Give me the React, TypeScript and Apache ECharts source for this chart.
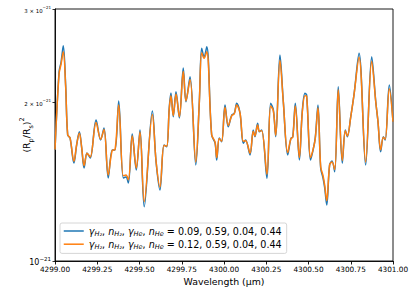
import React, { useEffect, useRef } from "react";
import * as echarts from "echarts";

// Wavelength samples (µm)
const WAVELENGTH = [
  4299.0, 4299.024, 4299.036, 4299.049, 4299.063, 4299.075, 4299.089, 4299.112, 4299.128, 4299.144,
  4299.158, 4299.172, 4299.189, 4299.197, 4299.209, 4299.243, 4299.27, 4299.29, 4299.315, 4299.339,
  4299.355, 4299.377, 4299.404, 4299.42, 4299.434, 4299.457, 4299.481, 4299.503, 4299.528, 4299.576,
  4299.598, 4299.621, 4299.645, 4299.661, 4299.676, 4299.686, 4299.7, 4299.716, 4299.736, 4299.759,
  4299.775, 4299.799, 4299.833, 4299.854, 4299.868, 4299.882, 4299.898, 4299.927, 4299.947, 4299.957,
  4299.972, 4299.986, 4300.006, 4300.025, 4300.046, 4300.061, 4300.075, 4300.095, 4300.114, 4300.128,
  4300.154, 4300.173, 4300.183, 4300.199, 4300.209, 4300.223, 4300.254, 4300.276, 4300.292, 4300.306,
  4300.331, 4300.351, 4300.377, 4300.396, 4300.407, 4300.422, 4300.446, 4300.463, 4300.479, 4300.489,
  4300.512, 4300.527, 4300.54, 4300.556, 4300.572, 4300.586, 4300.596, 4300.608, 4300.625, 4300.639,
  4300.655, 4300.676, 4300.7, 4300.718, 4300.73, 4300.75, 4300.769, 4300.799, 4300.838, 4300.874,
  4300.898, 4300.911, 4300.927, 4300.943, 4300.954, 4300.978, 4301.0,
];

// (Rp/Rs)^2 in units of 1e-21, gamma_H2 = 0.09
const DEPTH_A = [
  1.622, 2.280, 2.381, 2.557, 2.154, 1.732, 1.710, 1.533, 1.658, 1.757,
  1.637, 1.500, 1.601, 1.588, 1.567, 1.849, 1.695, 1.786, 1.436, 1.622,
  1.622, 2.009, 1.436, 1.442, 1.405, 1.740, 1.487, 1.770, 1.267, 1.923,
  1.542, 1.363, 1.658, 1.646, 1.949, 2.080, 1.876, 2.092, 1.865, 2.320,
  2.003, 2.233, 1.520, 2.003, 2.528, 2.437, 2.545, 1.732, 1.673, 1.553,
  1.710, 1.682, 1.974, 1.796, 1.890, 1.904, 1.989, 1.904, 1.671, 1.695,
  1.588, 1.770, 1.719, 1.823, 1.757, 1.770, 1.434, 1.989, 1.932, 1.719,
  2.455, 2.003, 1.588, 1.707, 1.719, 1.989, 1.553, 1.917, 2.077, 2.062,
  1.553, 1.622, 1.710, 1.974, 1.500, 1.436, 1.375, 1.277, 1.520, 1.546,
  1.476, 2.138, 1.531, 1.770, 1.719, 1.876, 2.062, 2.473, 1.520, 2.437,
  2.003, 1.836, 1.610, 1.719, 1.695, 2.154, 1.836,
];

// (Rp/Rs)^2 in units of 1e-21, gamma_H2 = 0.12
const DEPTH_B = [
  1.625, 2.260, 2.360, 2.490, 2.140, 1.735, 1.710, 1.545, 1.660, 1.745,
  1.640, 1.515, 1.600, 1.590, 1.575, 1.830, 1.700, 1.775, 1.455, 1.620,
  1.625, 1.975, 1.450, 1.455, 1.425, 1.725, 1.500, 1.755, 1.295, 1.895,
  1.545, 1.380, 1.655, 1.650, 1.940, 2.055, 1.885, 2.070, 1.875, 2.285,
  2.010, 2.205, 1.540, 2.000, 2.480, 2.420, 2.490, 1.735, 1.680, 1.570,
  1.705, 1.685, 1.955, 1.805, 1.885, 1.900, 1.975, 1.905, 1.685, 1.690,
  1.600, 1.760, 1.725, 1.810, 1.760, 1.765, 1.460, 1.965, 1.925, 1.730,
  2.400, 2.000, 1.605, 1.705, 1.715, 1.965, 1.570, 1.910, 2.055, 2.050,
  1.570, 1.625, 1.705, 1.950, 1.510, 1.450, 1.390, 1.300, 1.520, 1.540,
  1.490, 2.110, 1.550, 1.765, 1.725, 1.875, 2.060, 2.430, 1.540, 2.390,
  2.000, 1.840, 1.625, 1.715, 1.700, 2.120, 1.835,
];

const SERIES_NAMES = ["0.09, 0.59, 0.04, 0.44", "0.12, 0.59, 0.04, 0.44"];
const SERIES_COLORS = ["#1f77b4", "#ff7f0e"];
const Y_TICKS = [1, 2, 3];
const X_MIN = 4299;
const X_MAX = 4301;
const X_STEP = 0.25;

const FONT = "DejaVu Sans";

export default function App() {
  const ref = useRef<HTMLDivElement>(null);
  useEffect(() => {
    if (!ref.current) return;
    const chart = echarts.init(ref.current, undefined, { renderer: "svg" });
    const series = [DEPTH_A, DEPTH_B].map((arr, si) => ({
      name: SERIES_NAMES[si],
      type: "line",
      data: WAVELENGTH.map((w, i) => [w, arr[i]]),
      symbol: "none",
      showSymbol: false,
      smooth: 0.35,
      lineStyle: { color: SERIES_COLORS[si], width: 1.5 },
      itemStyle: { color: SERIES_COLORS[si] },
      z: 2 + si,
    }));
    const legendRich = {
      i: { fontFamily: FONT, fontSize: 9.6, fontStyle: "italic", color: "#000", lineHeight: 12.4 },
      s: { fontFamily: FONT, fontSize: 6.6, fontStyle: "italic", color: "#000", verticalAlign: "bottom", lineHeight: 9 },
      r: { fontFamily: FONT, fontSize: 9.6, color: "#000", lineHeight: 12.4 },
    };
    chart.setOption({
      animation: false,
      grid: {
        left: 55,
        right: 23,
        top: 9,
        bottom: 35,
        show: true,
        borderColor: "#000",
        borderWidth: 0.9,
        backgroundColor: "transparent",
      },
      legend: {
        orient: "vertical",
        left: 60,
        top: 223,
        padding: [3, 5, 3, 3],
        itemGap: 2,
        itemWidth: 20,
        itemHeight: 10,
        itemTextGap: 7,
        backgroundColor: "rgba(255,255,255,0.8)",
        borderColor: "#cccccc",
        borderWidth: 0.8,
        borderRadius: 2,
        itemStyle: { opacity: 0 },
        lineStyle: { width: 1.5 },
        data: SERIES_NAMES,
        formatter: (name: string) =>
          `{i|γ}{s|H₂}{r|, }{i|n}{s|H₂}{r|, }{i|γ}{s|He}{r|, }{i|n}{s|He}{r| = ${name}}`,
        textStyle: { fontFamily: FONT, fontSize: 9.6, color: "#000", rich: legendRich },
      },
      xAxis: {
        type: "value",
        min: X_MIN,
        max: X_MAX,
        interval: X_STEP,
        name: "Wavelength (μm)",
        nameLocation: "middle",
        nameGap: 16,
        nameMoveOverlap: false,
        nameTextStyle: {
          fontFamily: FONT,
          fontSize: 9.4,
          color: "#000",
        },
        axisLine: { lineStyle: { color: "#000", width: 0.9 } },
        axisTick: { show: true, inside: false, length: 3.5, lineStyle: { color: "#000", width: 0.9 } },
        axisLabel: {
          fontFamily: FONT,
          fontSize: 7.3,
          color: "#000",
          margin: 5,
          formatter: (v: number) => v.toFixed(2),
        },
        splitLine: { show: false },
      },
      yAxis: {
        type: "log",
        logBase: 10,
        min: 1,
        max: 3,
        name: "(R{sub|p}/R{sub|s}){sup|2}",
        nameLocation: "middle",
        nameRotate: 90,
        nameGap: 21,
        nameMoveOverlap: false,
        nameTextStyle: {
          fontFamily: FONT,
          fontSize: 9.4,
          color: "#000",
          rich: {
            sub: { fontFamily: FONT, fontSize: 6.5, color: "#000", verticalAlign: "bottom", lineHeight: 10 },
            sup: { fontFamily: FONT, fontSize: 6.5, color: "#000", verticalAlign: "top", lineHeight: 16 },
          },
        },
        axisLine: { lineStyle: { color: "#000", width: 0.9 } },
        axisTick: {
          show: true,
          inside: false,
          length: 2.5,
          customValues: Y_TICKS,
          lineStyle: { color: "#000", width: 0.8 },
        },
        axisLabel: {
          customValues: Y_TICKS,
          margin: 4,
          formatter: (v: number) =>
            Math.abs(v - 1) < 1e-6 ? "{b|10}{bs|−21}" : `{m|${Math.round(v)} × 10}{ms|−21}`,
          rich: {
            b: { fontFamily: FONT, fontSize: 8, color: "#000", verticalAlign: "bottom", lineHeight: 11 },
            bs: { fontFamily: FONT, fontSize: 5.5, color: "#000", verticalAlign: "top", lineHeight: 11 },
            m: { fontFamily: FONT, fontSize: 5.4, color: "#000", verticalAlign: "bottom", lineHeight: 8 },
            ms: { fontFamily: FONT, fontSize: 4, color: "#000", verticalAlign: "top", lineHeight: 8 },
          },
        },
        splitLine: { show: false },
        minorTick: { show: false },
      },
      series,
    });
    return () => chart.dispose();
  }, []);
  return (
    <div
      ref={ref}
      style={{ position: "fixed", left: 0, top: 0, width: 416, height: 296, background: "#fff" }}
    />
  );
}
